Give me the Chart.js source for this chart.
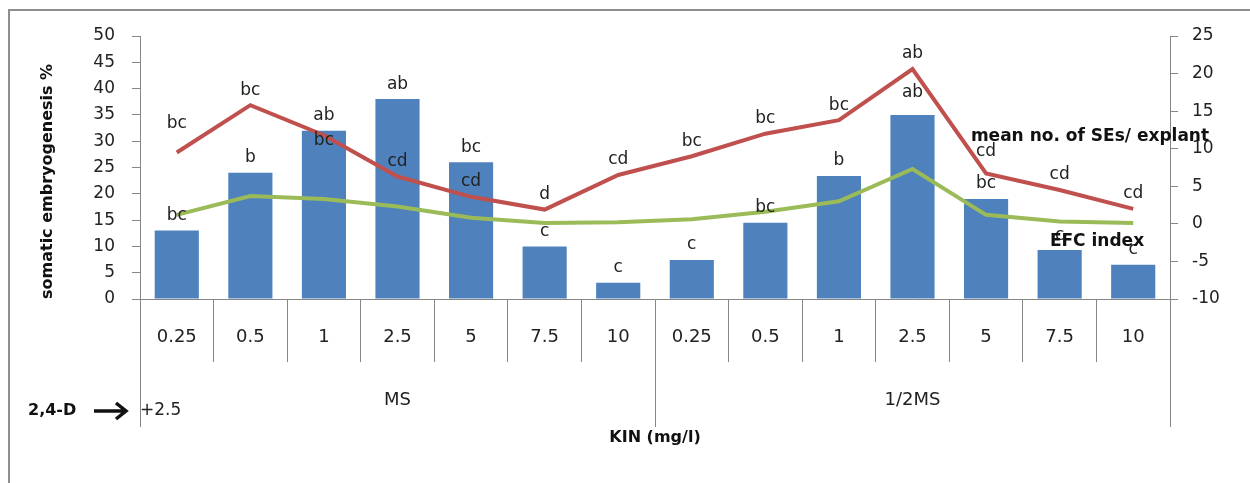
<!DOCTYPE html>
<html><head><meta charset="utf-8">
<script src="https://cdn.jsdelivr.net/npm/chart.js@4.4.1/dist/chart.umd.min.js"></script>
<style>
html,body{margin:0;padding:0;background:#fff;overflow:hidden}
#frame{position:absolute;left:8px;top:9px;width:1300px;height:600px;border:2px solid #8e8e8e;box-sizing:border-box}
#wrap{position:absolute;left:0;top:0;width:1250px;height:483px}
</style></head><body>
<div id="frame"></div>
<div id="wrap"><canvas id="c"></canvas></div>
<script>
const categories = ['0.25','0.5','1','2.5','5','7.5','10','0.25','0.5','1','2.5','5','7.5','10'];
const groups = ['MS','1/2MS'];
const embryogenesisPct = [13,24,32,38,26,10,3.1,7.4,14.5,23.4,35,19,9.3,6.5];
const meanSEs = [9.5,15.8,11.8,6.3,3.6,1.9,6.5,9.0,12.0,13.8,20.6,6.7,4.5,2.0];
const efcIndex = [1.2,3.7,3.3,2.3,0.8,0.1,0.2,0.6,1.6,3.0,7.3,1.2,0.3,0.1];
const barLetters = ['bc','b','ab','ab','bc','c','c','c','bc','b','ab','bc','c','c'];
const meanLetters = ['bc','bc','bc','cd','cd','d','cd','bc','bc','bc','ab','cd','cd','cd'];
const leftTicks = [0,50,5];
const rightTicks = [-10,25,5];

const FONT = '"DejaVu Sans", sans-serif';
const GREY = '#868686';
const TXT = '#222';

const annot = {
  id: 'annot',
  afterDatasetsDraw(chart, args, opts) {
    const ctx = chart.ctx;
    ctx.save();
    ctx.font = '17px ' + FONT;
    ctx.fillStyle = TXT;
    ctx.textAlign = 'center';
    ctx.textBaseline = 'middle';
    chart.data.datasets.forEach((ds, di) => {
      if (!ds.letters) return;
      const meta = chart.getDatasetMeta(di);
      const ov = opts.offsets[ds.key] || {};
      meta.data.forEach((el, i) => {
        const off = (ov[i] !== undefined) ? ov[i] : opts.defaultOffset;
        ctx.fillText(ds.letters[i], el.x, el.y - off);
      });
    });
    // series names
    const ca = chart.chartArea;
    ctx.font = 'bold 17px ' + FONT;
    ctx.fillStyle = '#111';
    ctx.fillText('mean no. of SEs/ explant', ca.right - 80, ca.top + 101);
    ctx.fillText('EFC index', ca.right - 73, ca.top + 206);
    ctx.restore();
  },
  afterDraw(chart) {
    const ctx = chart.ctx;
    const x = chart.scales.x;
    const top = x.top + 63, bottom = x.top + 128;
    const n = categories.length;
    const half = n / groups.length;
    const bounds = [x.left, (x.getPixelForTick(half - 1) + x.getPixelForTick(half)) / 2, x.right];
    ctx.save();
    ctx.strokeStyle = GREY;
    ctx.lineWidth = 1;
    bounds.forEach(b => {
      ctx.beginPath();
      ctx.moveTo(Math.round(b) + 0.5, top);
      ctx.lineTo(Math.round(b) + 0.5, bottom);
      ctx.stroke();
    });
    ctx.fillStyle = TXT;
    ctx.font = '18px ' + FONT;
    ctx.textAlign = 'center';
    ctx.textBaseline = 'middle';
    groups.forEach((g, gi) => {
      ctx.fillText(g, (bounds[gi] + bounds[gi + 1]) / 2, x.top + 101);
    });
    ctx.textAlign = 'left';
    ctx.font = '17px ' + FONT;
    ctx.fillText('+2.5', x.left, x.top + 112);
    ctx.font = 'bold 16px ' + FONT;
    ctx.fillStyle = '#111';
    ctx.fillText('2,4-D', 28, x.top + 112);
    // arrow
    const ay = x.top + 112;
    ctx.strokeStyle = '#111';
    ctx.lineWidth = 3.5;
    ctx.beginPath();
    ctx.moveTo(94, ay); ctx.lineTo(125, ay);
    ctx.moveTo(116, ay - 8); ctx.lineTo(126, ay); ctx.lineTo(116, ay + 8);
    ctx.stroke();
    ctx.restore();
  }
};

new Chart(document.getElementById('c'), {
  data: {
    labels: categories,
    datasets: [
      { type: 'line', key: 'mean', label: 'mean no. of SEs/ explant', data: meanSEs, letters: meanLetters,
        yAxisID: 'y1', borderColor: '#C0504D', borderWidth: 4, pointRadius: 0, tension: 0, order: 0 },
      { type: 'line', key: 'efc', label: 'EFC index', data: efcIndex,
        yAxisID: 'y1', borderColor: '#9BBB59', borderWidth: 4, pointRadius: 0, tension: 0, order: 1 },
      { type: 'bar', key: 'bar', label: 'somatic embryogenesis %', data: embryogenesisPct, letters: barLetters,
        yAxisID: 'y', backgroundColor: '#4F81BD', barPercentage: 0.6, categoryPercentage: 1.0, order: 2 }
    ]
  },
  options: {
    responsive: true,
    maintainAspectRatio: false,
    animation: false,
    layout: { padding: { top: 36, left: 0, right: 0, bottom: 0 } },
    plugins: {
      legend: { display: false },
      tooltip: { enabled: false },
      annot: { defaultOffset: 15, offsets: { mean: { 0: 29, 2: -5, 11: 22 }, bar: { 10: 22 } } }
    },
    scales: {
      x: {
        position: 'bottom',
        offset: true,
        grid: { drawOnChartArea: false, offset: true, tickLength: 63, color: GREY },
        border: { color: GREY },
        ticks: { padding: -35, color: TXT, font: { family: FONT, size: 18 }, maxRotation: 0, autoSkip: false },
        title: { display: true, text: 'KIN (mg/l)', color: '#111', font: { family: FONT, size: 16, weight: 'bold' }, padding: { top: 0, bottom: 36 } },
        afterFit: s => { s.height = 184; }
      },
      y: {
        position: 'left',
        min: leftTicks[0], max: leftTicks[1],
        ticks: { stepSize: leftTicks[2], padding: 17, color: TXT, font: { family: FONT, size: 17 } },
        grid: { drawOnChartArea: false, tickLength: 8, color: GREY },
        border: { color: GREY },
        title: { display: true, text: 'somatic embryogenesis %', align: 'start', color: '#111', font: { family: FONT, size: 16, weight: 'bold' }, padding: { top: 38, bottom: 0 } },
        afterFit: s => { s.width = 140; }
      },
      y1: {
        position: 'right',
        min: rightTicks[0], max: rightTicks[1],
        ticks: { stepSize: rightTicks[2], padding: 14, color: TXT, font: { family: FONT, size: 17 } },
        grid: { drawOnChartArea: false, tickLength: 8, color: GREY },
        border: { color: GREY },
        afterFit: s => { s.width = 80; }
      }
    }
  },
  plugins: [annot]
});
</script>
</body></html>
